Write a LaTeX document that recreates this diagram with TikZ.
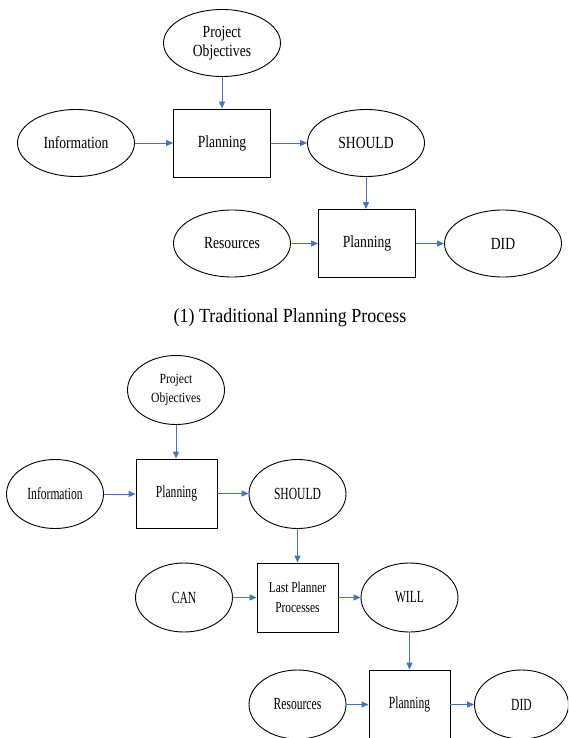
\documentclass[tikz,border=0pt]{standalone}
\usepackage{fontspec}
\setmainfont{Liberation Serif}
\newfontfamily\fA{Liberation Serif}[FakeStretch=0.8]
\newfontfamily\fB{Liberation Serif}[FakeStretch=0.68]
\newfontfamily\fC{Liberation Serif}[FakeStretch=0.83]
\newfontfamily\fD{Liberation Serif}[FakeStretch=0.76]
\newfontfamily\fE{Liberation Serif}[FakeStretch=0.9]
\usetikzlibrary{shapes.geometric,arrows.meta}
\definecolor{arrowblue}{HTML}{4472C4}
\begin{document}
\begin{tikzpicture}[x=1pt,y=-1pt,
  oval/.style={ellipse,draw,line width=0.9pt,inner sep=0pt,align=center},
  box/.style={rectangle,draw,line width=0.9pt,inner sep=0pt,align=center},
  topoval/.style={oval,minimum width=117pt,minimum height=67pt,font=\fA\fontsize{17}{19.5}\selectfont},
  topbox/.style={box,minimum width=97pt,minimum height=68pt,font=\fA\fontsize{17}{19.5}\selectfont},
  botoval/.style={oval,minimum width=97pt,minimum height=69pt,font=\fB\fontsize{17}{19.5}\selectfont},
  botbox/.style={box,minimum width=81pt,minimum height=69pt,font=\fB\fontsize{17}{19.5}\selectfont},
  flow/.style={draw=arrowblue,line width=0.9pt,-{Triangle[length=7pt,width=6pt]}}]
\useasboundingbox (0,0) rectangle (568,738);
\clip (0,0) rectangle (568,738);

% ---- (1) traditional ----
\node[topoval] (po1) at (222,43) {Project\\Objectives};
\node[topbox] (plan1) at (222,143) {Planning};
\node[topoval] (info1) at (76,143) {Information};
\node[topoval] (should1) at (366,143) {SHOULD};
\node[topbox] (plan2) at (367,243.5) {Planning};
\node[topoval] (res1) at (232,243.5) {Resources};
\node[topoval] (did1) at (503,243.5) {DID};
\node[font=\fE\fontsize{20}{24}\selectfont] (cap1) at (290,318) {(1) Traditional Planning Process};

\draw[flow] (po1.south) -- (po1.south |- plan1.north);
\draw[flow] (info1.east) -- (info1.east -| plan1.west);
\draw[flow] (plan1.east) -- (plan1.east -| should1.west);
\draw[flow] (should1.south) -- (should1.south |- plan2.north);
\draw[flow] (res1.east) -- (res1.east -| plan2.west);
\draw[flow] (plan2.east) -- (plan2.east -| did1.west);

% ---- (2) last planner ----
\node[botoval,font=\fC\fontsize{14}{19}\selectfont] (po2) at (176,390) {Project\\Objectives};
\node[botoval] (info2) at (55,494) {Information};
\node[botbox] (plan3) at (176.5,493.5) {Planning};
\node[botoval] (should2) at (297.5,494) {SHOULD};
\node[botbox,font=\fD\fontsize{15}{20}\selectfont] (lp) at (297.5,597.5) {Last Planner\\Processes};
\node[botoval] (can) at (184,597.5) {CAN};
\node[botoval] (will) at (409.5,597.5) {WILL};
\node[botbox] (plan4) at (409.5,704.5) {Planning};
\node[botoval] (res2) at (297.5,704.5) {Resources};
\node[botoval,minimum width=94pt] (did2) at (521.5,704.5) {DID};

\draw[flow] (po2.south) -- (po2.south |- plan3.north);
\draw[flow] (info2.east) -- (info2.east -| plan3.west);
\draw[flow] (plan3.east) -- (plan3.east -| should2.west);
\draw[flow] (should2.south) -- (should2.south |- lp.north);
\draw[flow] (can.east) -- (can.east -| lp.west);
\draw[flow] (lp.east) -- (lp.east -| will.west);
\draw[flow] (will.south) -- (will.south |- plan4.north);
\draw[flow] (res2.east) -- (res2.east -| plan4.west);
\draw[flow] (plan4.east) -- (plan4.east -| did2.west);
\end{tikzpicture}
\end{document}
